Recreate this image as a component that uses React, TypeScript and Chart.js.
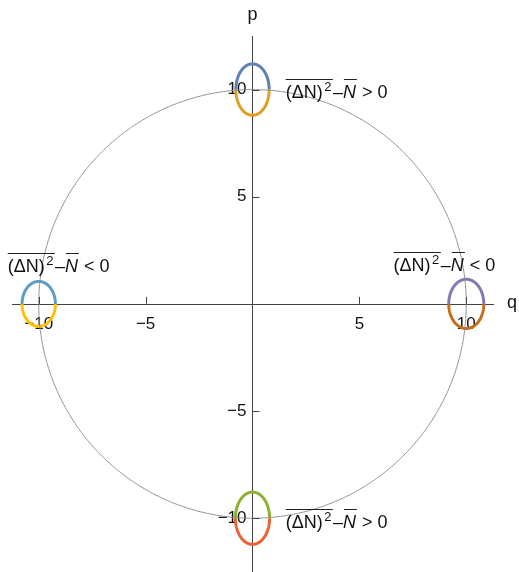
import React, { useEffect, useRef } from "react";
import { Chart, registerables } from "chart.js";

Chart.register(...registerables);

// ---- data ----
const circleRadius = 10;
const qRange = [-11.25, 11.25];
const pRange = [-12.5, 12.5];
const tickValues = [-10, -5, 5, 10];
const ellipseCentersQ = [0, 0, 10, -10];
const ellipseCentersP = [10, -10, 0, 0];
const ellipseRadiiQ = [0.78, 0.8, 0.82, 0.78];
const ellipseRadiiP = [1.2, 1.22, 1.15, 1.05];
const upperColors = ["#5E81B5", "#8FB032", "#8778B3", "#5D9EC7"];
const lowerColors = ["#E19C24", "#EB6235", "#C56E1A", "#FFBF00"];
const labelSigns = [">", ">", "<", "<"];
const labelQ = [1.55, 1.55, 6.6, -11.45];
const labelP = [9.63, -10.47, 1.54, 1.5];
const axisNames = ["q", "p"];

const FONT = "'Liberation Sans', Arial, sans-serif";
const fmt = (v: number) => (v < 0 ? "\u2212" + Math.abs(v) : String(v));

const CANVAS_W = 519;
const CANVAS_H = 588;

function arc(cq: number, cp: number, rq: number, rp: number, a0: number, a1: number, n: number) {
  const pts: { x: number; y: number }[] = [];
  for (let i = 0; i <= n; i++) {
    const t = a0 + ((a1 - a0) * i) / n;
    pts.push({ x: cq + rq * Math.cos(t), y: cp + rp * Math.sin(t) });
  }
  return pts;
}

function drawLabel(ctx: CanvasRenderingContext2D, x0: number, yb: number, sign: string) {
  ctx.save();
  ctx.fillStyle = "#111";
  ctx.strokeStyle = "#222";
  ctx.lineWidth = 1;
  ctx.textBaseline = "alphabetic";
  ctx.textAlign = "left";
  const olY = Math.round(yb - 19) + 0.5;
  let x = x0;
  ctx.font = `18px ${FONT}`;
  ctx.fillText("(\u0394N)", x, yb);
  x += ctx.measureText("(\u0394N)").width + 1.5;
  ctx.font = `13px ${FONT}`;
  ctx.fillText("2", x, yb - 7);
  x += ctx.measureText("2").width + 1.5;
  ctx.beginPath();
  ctx.moveTo(x0, olY);
  ctx.lineTo(x, olY);
  ctx.stroke();
  ctx.font = `18px ${FONT}`;
  ctx.fillText("\u2013", x, yb);
  x += ctx.measureText("\u2013").width;
  ctx.font = `italic 18px ${FONT}`;
  const nStart = x;
  ctx.fillText("N", x, yb);
  x += ctx.measureText("N").width;
  ctx.beginPath();
  ctx.moveTo(nStart + 1, olY);
  ctx.lineTo(x + 1, olY);
  ctx.stroke();
  ctx.font = `18px ${FONT}`;
  x += 6;
  ctx.fillText(sign, x, yb);
  x += ctx.measureText(sign).width + 5;
  ctx.fillText("0", x, yb);
  ctx.restore();
}

const overlayPlugin = {
  id: "overlay",
  afterDatasetsDraw(chart: any) {
    const ctx = chart.ctx as CanvasRenderingContext2D;
    const xs = chart.scales.x;
    const ys = chart.scales.y;
    const x0 = xs.getPixelForValue(0);
    const y0 = ys.getPixelForValue(0);
    ctx.save();
    ctx.strokeStyle = "#444";
    ctx.lineWidth = 1;
    for (const v of tickValues) {
      const px = Math.round(xs.getPixelForValue(v)) + 0.5;
      ctx.beginPath();
      ctx.moveTo(px, y0);
      ctx.lineTo(px, y0 - 7);
      ctx.stroke();
      const py = Math.round(ys.getPixelForValue(v)) + 0.5;
      ctx.beginPath();
      ctx.moveTo(x0, py);
      ctx.lineTo(x0 + 7, py);
      ctx.stroke();
    }
    ctx.fillStyle = "#111";
    ctx.font = `18px ${FONT}`;
    ctx.textAlign = "center";
    ctx.textBaseline = "middle";
    ctx.fillText(axisNames[0], chart.chartArea.right + 19, y0 - 1);
    ctx.fillText(axisNames[1], x0, chart.chartArea.top - 21);
    ctx.restore();
    for (let i = 0; i < labelSigns.length; i++) {
      drawLabel(ctx, xs.getPixelForValue(labelQ[i]), ys.getPixelForValue(labelP[i]), labelSigns[i]);
    }
  },
};

export default function App() {
  const ref = useRef<HTMLCanvasElement | null>(null);
  useEffect(() => {
    document.body.style.margin = "0";
    document.body.style.overflow = "hidden";
    if (!ref.current) return;
    const datasets: any[] = [];
    const lineBase = { pointRadius: 0, showLine: true, fill: false, tension: 0.01 };
    datasets.push({
      ...lineBase,
      data: arc(0, 0, circleRadius, circleRadius, 0, Math.PI * 2, 360),
      borderColor: "#8a8a8a",
      borderWidth: 1,
    });
    for (let i = 0; i < ellipseCentersQ.length; i++) {
      datasets.push({
        ...lineBase,
        data: arc(ellipseCentersQ[i], ellipseCentersP[i], ellipseRadiiQ[i], ellipseRadiiP[i], 0, Math.PI, 80),
        borderColor: upperColors[i],
        borderWidth: 3,
      });
      datasets.push({
        ...lineBase,
        data: arc(ellipseCentersQ[i], ellipseCentersP[i], ellipseRadiiQ[i], ellipseRadiiP[i], Math.PI, Math.PI * 2, 80),
        borderColor: lowerColors[i],
        borderWidth: 3,
      });
    }
    const chart = new Chart(ref.current, {
      type: "scatter",
      data: { datasets },
      plugins: [overlayPlugin],
      options: {
        animation: false,
        responsive: false,
        maintainAspectRatio: false,
        layout: { padding: { left: 12, right: 26, top: 36, bottom: 0 } },
        plugins: { legend: { display: false }, tooltip: { enabled: false } },
        scales: {
          x: {
            type: "linear",
            position: "center",
            min: qRange[0],
            max: qRange[1],
            afterBuildTicks: (s: any) => {
              s.ticks = tickValues.map((v) => ({ value: v }));
            },
            grid: { display: false, drawTicks: false },
            border: { display: true, color: "#444", width: 1 },
            ticks: {
              padding: 10,
              color: "#111",
              font: { family: FONT, size: 17 },
              callback: (v: any) => fmt(Number(v)),
              maxRotation: 0,
            },
          },
          y: {
            type: "linear",
            position: "center",
            min: pRange[0],
            max: pRange[1],
            afterBuildTicks: (s: any) => {
              s.ticks = tickValues.map((v) => ({ value: v }));
            },
            grid: { display: false, drawTicks: false },
            border: { display: true, color: "#444", width: 1 },
            ticks: {
              padding: 6,
              color: "#111",
              font: { family: FONT, size: 17 },
              callback: (v: any) => fmt(Number(v)),
            },
          },
        },
      } as any,
    });
    return () => chart.destroy();
  }, []);
  return (
    <div style={{ width: CANVAS_W, height: CANVAS_H }}>
      <canvas
        ref={ref}
        width={CANVAS_W}
        height={CANVAS_H}
        style={{ display: "block", width: CANVAS_W, height: CANVAS_H }}
      />
    </div>
  );
}
